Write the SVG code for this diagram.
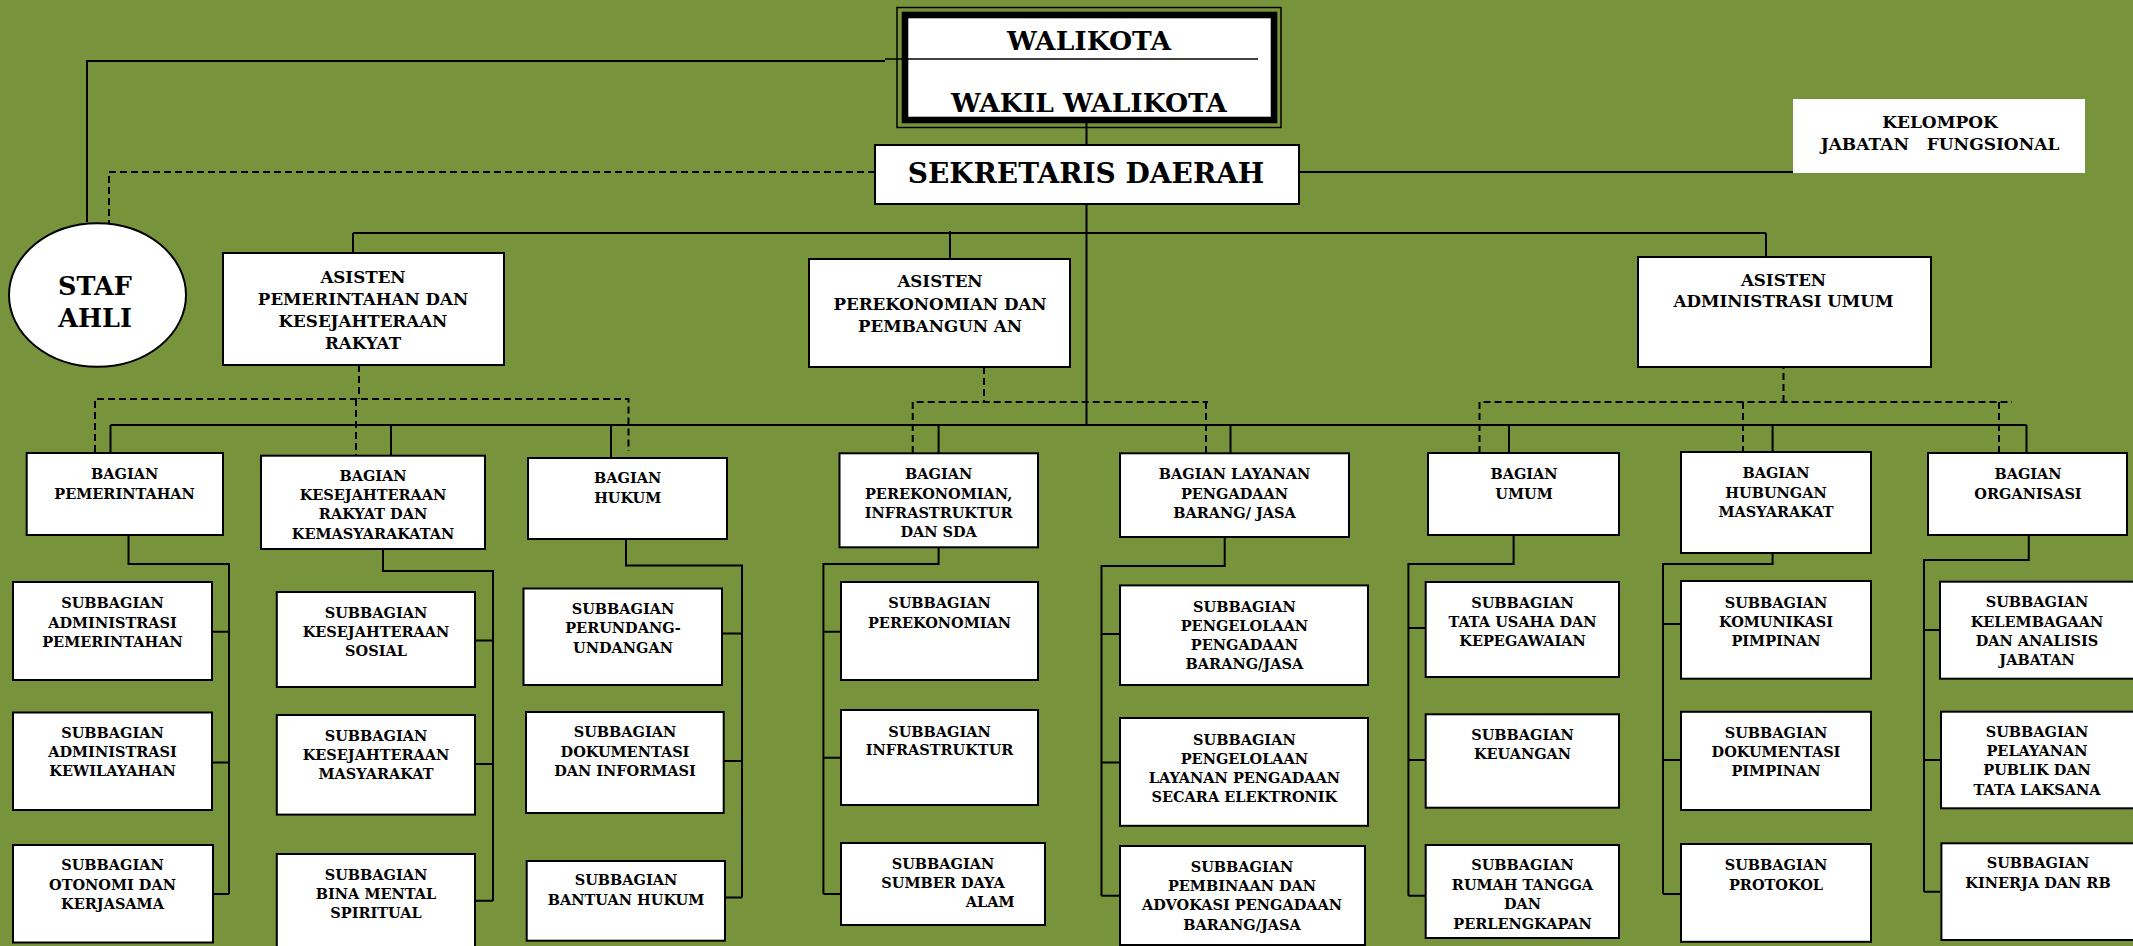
<svg xmlns="http://www.w3.org/2000/svg" width="2133" height="946" viewBox="0 0 2133 946">
<style>
.box{fill:#fff;stroke:#000;stroke-width:2}
.ln{fill:none;stroke:#000;stroke-width:2}
.dl{fill:none;stroke:#000;stroke-width:2;stroke-dasharray:7 4}
text{font-family:"DejaVu Serif","Liberation Serif",serif;font-weight:bold;text-anchor:middle;fill:#000}
.s{font-size:14.5px}
.a{font-size:16.7px}
.big{font-size:26.5px}
</style>
<rect x="0" y="0" width="2133" height="946" fill="#77933c"/>
<g id="connectors">
<path class="ln" d="M87,222 V61 H885"/>
<path class="ln" d="M1086.5,112 V145"/>
<path class="ln" d="M1086.5,204 V425"/>
<path class="ln" d="M1299,172 H1793"/>
<path class="ln" d="M353,233 H1766 M353,233 V253 M950,231 V259 M1766,233 V257"/>
<path class="ln" d="M110.5,425 H2026.5 M110.5,425 V453 M391,425 V456 M611,425 V458 M938.6,425 V453 M1230.5,425 V453 M1509,425 V453 M1772.6,425 V452 M2026.5,425 V453"/>
<path class="ln" d="M128.5,535 V564 H229 V894 M212,631.7 H229 M212,762.4 H229 M213,894 H229"/>
<path class="ln" d="M383,549 V571 H493 V901 M475,640.4 H493 M475,764 H493 M475,900.7 H493"/>
<path class="ln" d="M626,539 V565.5 H742 V897.6 M722,633.4 H742 M723.7,761 H742 M725,897.6 H742"/>
<path class="ln" d="M938.6,547 V564 H823.4 V894 M823.4,631.7 H841 M823.4,757.8 H841 M823.4,894 H841"/>
<path class="ln" d="M1224.7,537 V566 H1101.5 V895.8 M1101.5,634 H1120 M1101.5,762.4 H1120 M1101.5,895.8 H1120"/>
<path class="ln" d="M1513.6,535 V564 H1408.4 V895.8 M1408.4,628 H1425.7 M1408.4,760 H1425.7 M1408.4,895.8 H1425.7"/>
<path class="ln" d="M1772.6,553 V564 H1663 V894 M1663,624 H1681 M1663,760 H1681 M1663,894 H1681"/>
<path class="ln" d="M2028.8,535 V560 H1924 V891.7 M1924,630 H1940 M1924,760 H1940 M1924,891.7 H1940"/>
<path class="dl" d="M875,172 H109 V223"/>
<path class="dl" d="M359,365 V399 M95,452 V399 H628.5 V451 M356,399 V455"/>
<path class="dl" d="M984,367 V402 M912.7,453 V402 H1208 M1206,402 V453"/>
<path class="dl" d="M1783.5,362 V402 M1479.5,453 V402 H2012 M1743,402 V452 M1999,402 V453"/>
</g>
<g id="walikota">
<rect x="897" y="7.5" width="384" height="120" fill="none" stroke="#000" stroke-width="1.5"/>
<rect x="905" y="15" width="369" height="105" fill="#fff" stroke="#000" stroke-width="6.6"/>
<path d="M885,59 H1258" stroke="#000" stroke-width="1.5"/>
<text class="big" x="1089" y="50">WALIKOTA</text>
<text class="big" x="1089" y="112">WAKIL WALIKOTA</text>
</g>
<g id="sekda">
<rect class="box" x="875" y="145" width="424" height="59"/>
<text x="1086" y="183" style="font-size:28px">SEKRETARIS DAERAH</text>
</g>
<g id="kelompok">
<rect x="1793" y="99" width="292" height="74" fill="#fff"/>
<text x="1940" y="128" style="font-size:17px">KELOMPOK</text>
<text x="1940" y="150" style="font-size:17px" xml:space="preserve">JABATAN   FUNGSIONAL</text>
</g>
<g id="staf-ahli">
<ellipse cx="97.5" cy="295" rx="88.5" ry="71.7" fill="#fff" stroke="#000" stroke-width="2"/>
<text x="95" y="295" style="font-size:25.5px">STAF</text>
<text x="95" y="327" style="font-size:25.5px">AHLI</text>
</g>
<g id="asisten-1">
<rect class="box" x="223" y="253" width="281" height="112"/>
<text class="a" x="363" y="283">ASISTEN</text>
<text class="a" x="363" y="305">PEMERINTAHAN DAN</text>
<text class="a" x="363" y="327">KESEJAHTERAAN</text>
<text class="a" x="363" y="349">RAKYAT</text>
</g>
<g id="asisten-2">
<rect class="box" x="809" y="259" width="261" height="108"/>
<text class="a" x="940" y="287">ASISTEN</text>
<text class="a" x="940" y="310">PEREKONOMIAN DAN</text>
<text class="a" x="940" y="332">PEMBANGUN AN</text>
</g>
<g id="asisten-3">
<rect class="box" x="1638" y="257" width="293" height="110"/>
<text class="a" x="1783.5" y="286">ASISTEN</text>
<text class="a" x="1783.5" y="307">ADMINISTRASI UMUM</text>
</g>
<g id="bagian-pemerintahan">
<rect class="box" x="26.7" y="453" width="196.3" height="82"/>
<text class="s" x="124.6" y="479">BAGIAN</text>
<text class="s" x="124.6" y="498.5">PEMERINTAHAN</text>
</g>
<g id="bagian-kesra">
<rect class="box" x="261" y="455.7" width="224" height="93.3"/>
<text class="s" x="373" y="481">BAGIAN</text>
<text class="s" x="373" y="500">KESEJAHTERAAN</text>
<text class="s" x="373" y="519">RAKYAT DAN</text>
<text class="s" x="373" y="538.5">KEMASYARAKATAN</text>
</g>
<g id="bagian-hukum">
<rect class="box" x="528" y="458" width="199" height="81"/>
<text class="s" x="627.7" y="483">BAGIAN</text>
<text class="s" x="627.7" y="502.5">HUKUM</text>
</g>
<g id="bagian-perekonomian">
<rect class="box" x="839.5" y="453.3" width="198.5" height="94"/>
<text class="s" x="938.6" y="479.4">BAGIAN</text>
<text class="s" x="938.6" y="498.6">PEREKONOMIAN,</text>
<text class="s" x="938.6" y="517.8">INFRASTRUKTUR</text>
<text class="s" x="938.6" y="537">DAN SDA</text>
</g>
<g id="bagian-layanan">
<rect class="box" x="1120" y="453.3" width="229" height="83.7"/>
<text class="s" x="1234.5" y="479.4">BAGIAN LAYANAN</text>
<text class="s" x="1234.5" y="498.6">PENGADAAN</text>
<text class="s" x="1234.5" y="517.8">BARANG/ JASA</text>
</g>
<g id="bagian-umum">
<rect class="box" x="1428" y="453" width="191" height="82"/>
<text class="s" x="1524" y="479.4">BAGIAN</text>
<text class="s" x="1524" y="498.6">UMUM</text>
</g>
<g id="bagian-humas">
<rect class="box" x="1681" y="452" width="190" height="101"/>
<text class="s" x="1776" y="478.4">BAGIAN</text>
<text class="s" x="1776" y="497.6">HUBUNGAN</text>
<text class="s" x="1776" y="516.7">MASYARAKAT</text>
</g>
<g id="bagian-organisasi">
<rect class="box" x="1928" y="453" width="199" height="82"/>
<text class="s" x="2028" y="479.4">BAGIAN</text>
<text class="s" x="2028" y="498.6">ORGANISASI</text>
</g>
<g id="sub-admin-pemerintahan">
<rect class="box" x="13" y="582" width="199" height="98"/>
<text class="s" x="112.5" y="608">SUBBAGIAN</text>
<text class="s" x="112.5" y="627.5">ADMINISTRASI</text>
<text class="s" x="112.5" y="646.5">PEMERINTAHAN</text>
</g>
<g id="sub-admin-kewilayahan">
<rect class="box" x="13" y="712.5" width="199" height="97.5"/>
<text class="s" x="112.5" y="738">SUBBAGIAN</text>
<text class="s" x="112.5" y="757">ADMINISTRASI</text>
<text class="s" x="112.5" y="776">KEWILAYAHAN</text>
</g>
<g id="sub-otonomi">
<rect class="box" x="13" y="845" width="200" height="97.5"/>
<text class="s" x="112.5" y="870.4">SUBBAGIAN</text>
<text class="s" x="112.5" y="889.5">OTONOMI DAN</text>
<text class="s" x="112.5" y="908.7">KERJASAMA</text>
</g>
<g id="sub-kes-sosial">
<rect class="box" x="276.8" y="592" width="198.2" height="95"/>
<text class="s" x="376" y="618">SUBBAGIAN</text>
<text class="s" x="376" y="637">KESEJAHTERAAN</text>
<text class="s" x="376" y="656.4">SOSIAL</text>
</g>
<g id="sub-kes-masyarakat">
<rect class="box" x="276.8" y="715" width="198.2" height="99.6"/>
<text class="s" x="376" y="740.8">SUBBAGIAN</text>
<text class="s" x="376" y="760">KESEJAHTERAAN</text>
<text class="s" x="376" y="779">MASYARAKAT</text>
</g>
<g id="sub-bina-mental">
<rect class="box" x="276.8" y="854" width="198.2" height="100"/>
<text class="s" x="376" y="880">SUBBAGIAN</text>
<text class="s" x="376" y="899">BINA MENTAL</text>
<text class="s" x="376" y="918">SPIRITUAL</text>
</g>
<g id="sub-perundang">
<rect class="box" x="523.5" y="588.5" width="198.5" height="96.5"/>
<text class="s" x="623" y="614">SUBBAGIAN</text>
<text class="s" x="623" y="633.4">PERUNDANG-</text>
<text class="s" x="623" y="652.6">UNDANGAN</text>
</g>
<g id="sub-dokumentasi-informasi">
<rect class="box" x="526" y="712" width="197.7" height="101"/>
<text class="s" x="625" y="737">SUBBAGIAN</text>
<text class="s" x="625" y="757">DOKUMENTASI</text>
<text class="s" x="625" y="776">DAN INFORMASI</text>
</g>
<g id="sub-bantuan-hukum">
<rect class="box" x="526.7" y="861" width="198.3" height="79.7"/>
<text class="s" x="626" y="885">SUBBAGIAN</text>
<text class="s" x="626" y="905">BANTUAN HUKUM</text>
</g>
<g id="sub-perekonomian">
<rect class="box" x="841" y="582" width="197" height="98"/>
<text class="s" x="939.5" y="608">SUBBAGIAN</text>
<text class="s" x="939.5" y="627.5">PEREKONOMIAN</text>
</g>
<g id="sub-infrastruktur">
<rect class="box" x="841" y="710" width="197" height="95"/>
<text class="s" x="939.5" y="736.6">SUBBAGIAN</text>
<text class="s" x="939.5" y="755">INFRASTRUKTUR</text>
</g>
<g id="sub-sda">
<rect class="box" x="841" y="843" width="204" height="82"/>
<text class="s" x="943" y="868.6">SUBBAGIAN</text>
<text class="s" x="943" y="887.8">SUMBER DAYA</text>
<text class="s" x="1014.5" y="907" style="text-anchor:end">ALAM</text>
</g>
<g id="sub-pengelolaan-pengadaan">
<rect class="box" x="1120" y="585.4" width="248" height="99.6"/>
<text class="s" x="1244.4" y="612">SUBBAGIAN</text>
<text class="s" x="1244.4" y="631">PENGELOLAAN</text>
<text class="s" x="1244.4" y="650">PENGADAAN</text>
<text class="s" x="1244.4" y="669">BARANG/JASA</text>
</g>
<g id="sub-layanan-elektronik">
<rect class="box" x="1120" y="718" width="248" height="107.8"/>
<text class="s" x="1244.4" y="745">SUBBAGIAN</text>
<text class="s" x="1244.4" y="764">PENGELOLAAN</text>
<text class="s" x="1244.4" y="783">LAYANAN PENGADAAN</text>
<text class="s" x="1244.4" y="802.4">SECARA ELEKTRONIK</text>
</g>
<g id="sub-pembinaan">
<rect class="box" x="1120" y="846" width="245" height="99"/>
<text class="s" x="1242" y="872">SUBBAGIAN</text>
<text class="s" x="1242" y="891">PEMBINAAN DAN</text>
<text class="s" x="1242" y="910.4">ADVOKASI PENGADAAN</text>
<text class="s" x="1242" y="929.6">BARANG/JASA</text>
</g>
<g id="sub-tata-usaha">
<rect class="box" x="1425.7" y="582" width="193.3" height="95"/>
<text class="s" x="1522.5" y="607.7">SUBBAGIAN</text>
<text class="s" x="1522.5" y="627">TATA USAHA DAN</text>
<text class="s" x="1522.5" y="646">KEPEGAWAIAN</text>
</g>
<g id="sub-keuangan">
<rect class="box" x="1425.7" y="714.3" width="193.3" height="93.4"/>
<text class="s" x="1522.5" y="739.7">SUBBAGIAN</text>
<text class="s" x="1522.5" y="759">KEUANGAN</text>
</g>
<g id="sub-rumah-tangga">
<rect class="box" x="1425.7" y="845" width="193.3" height="93"/>
<text class="s" x="1522.5" y="870">SUBBAGIAN</text>
<text class="s" x="1522.5" y="890">RUMAH TANGGA</text>
<text class="s" x="1522.5" y="909">DAN</text>
<text class="s" x="1522.5" y="928.6">PERLENGKAPAN</text>
</g>
<g id="sub-komunikasi">
<rect class="box" x="1681" y="581" width="190" height="97.7"/>
<text class="s" x="1776" y="607.7">SUBBAGIAN</text>
<text class="s" x="1776" y="626.5">KOMUNIKASI</text>
<text class="s" x="1776" y="645.6">PIMPINAN</text>
</g>
<g id="sub-dokumentasi-pimpinan">
<rect class="box" x="1681" y="711.8" width="190" height="98.2"/>
<text class="s" x="1776" y="738">SUBBAGIAN</text>
<text class="s" x="1776" y="757">DOKUMENTASI</text>
<text class="s" x="1776" y="776">PIMPINAN</text>
</g>
<g id="sub-protokol">
<rect class="box" x="1681" y="844" width="190" height="97.8"/>
<text class="s" x="1776" y="870.4">SUBBAGIAN</text>
<text class="s" x="1776" y="889.5">PROTOKOL</text>
</g>
<g id="sub-kelembagaan">
<rect class="box" x="1940" y="581.7" width="200" height="97"/>
<text class="s" x="2037" y="606.7">SUBBAGIAN</text>
<text class="s" x="2037" y="626.7">KELEMBAGAAN</text>
<text class="s" x="2037" y="646">DAN ANALISIS</text>
<text class="s" x="2037" y="665">JABATAN</text>
</g>
<g id="sub-pelayanan-publik">
<rect class="box" x="1941" y="711.7" width="200" height="96.6"/>
<text class="s" x="2037" y="736.7">SUBBAGIAN</text>
<text class="s" x="2037" y="756">PELAYANAN</text>
<text class="s" x="2037" y="775">PUBLIK DAN</text>
<text class="s" x="2037" y="795">TATA LAKSANA</text>
</g>
<g id="sub-kinerja">
<rect class="box" x="1941.4" y="843.3" width="200" height="96.7"/>
<text class="s" x="2038" y="868.3">SUBBAGIAN</text>
<text class="s" x="2038" y="888.3">KINERJA DAN RB</text>
</g>
</svg>
